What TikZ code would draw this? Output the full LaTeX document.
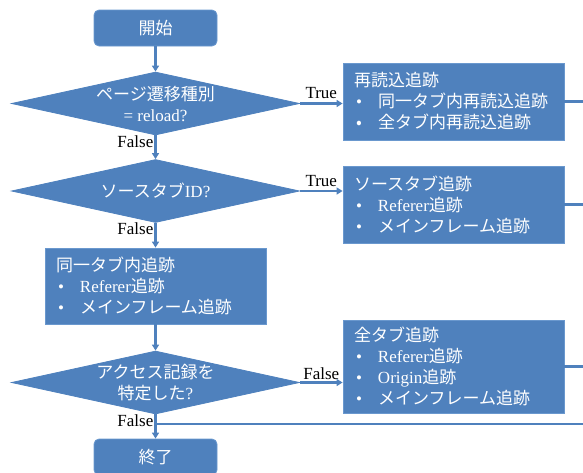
\documentclass[tikz,border=0pt]{standalone}
\usepackage{fontspec}
\setmainfont{Liberation Serif}
\newfontfamily\jp{Noto Sans CJK JP}
\usetikzlibrary{shapes.geometric,arrows.meta}
\definecolor{fc}{HTML}{4F81BD}
\definecolor{bc}{HTML}{6A98CE}
\newcommand{\bul}[1]{\hspace*{2pt}\makebox[22pt][l]{•}#1}
\tikzset{
  base/.style={fill=fc,draw=bc,line width=0.8pt,text=white,font=\fontsize{17}{21}\selectfont,inner sep=0pt},
  terminal/.style={base,rounded corners=5pt,minimum width=123pt,minimum height=36pt},
  decision/.style={base,diamond,minimum width=288pt,minimum height=63pt,draw=fc},
  procbox/.style={base,rectangle,minimum width=221pt,align=left,text width=199pt,inner xsep=11pt},
  dtext/.style={text=white,align=center,font=\fontsize{17}{21}\selectfont,inner sep=0pt},
  conn/.style={draw=fc,line width=2.2pt},
  arr/.style={conn,-{Triangle[length=6pt,width=7pt]}},
  lbl/.style={text=black,font=\fontsize{17}{20}\selectfont,inner sep=0pt}
}
\begin{document}
\begin{tikzpicture}[x=1pt,y=-1pt]
\useasboundingbox (0,0) rectangle (583,472);
\node[terminal] (start) at (155.5,28) {\jp 開始};
\node[decision] (d1) at (155.5,103.5) {};
\node[dtext] (d1t) at (d1.center) {{\jp ページ遷移種別}\\= reload?};
\node[procbox,minimum height=77pt] (b1) at (453.5,101.5) {{\jp 再読込追跡}\\\bul{\jp 同一タブ内再読込追跡}\\\bul{\jp 全タブ内再読込追跡}};
\node[decision] (d2) at (155.5,191) {};
\node[dtext] (d2t) at (d2.center) {{\jp ソースタブ}ID?};
\node[procbox,minimum height=77pt] (b2) at (453.5,204.5) {{\jp ソースタブ追跡}\\\bul{Referer{\jp 追跡}}\\\bul{\jp メインフレーム追跡}};
\node[procbox,minimum height=76pt] (b3) at (155.5,286) {{\jp 同一タブ内追跡}\\\bul{Referer{\jp 追跡}}\\\bul{\jp メインフレーム追跡}};
\node[decision] (d3) at (155.5,382.5) {};
\node[dtext] (d3t) at (d3.center) {{\jp アクセス記録を}\\{\jp 特定した}?};
\node[procbox,minimum height=93pt] (b4) at (453.5,366.5) {{\jp 全タブ追跡}\\\bul{Referer{\jp 追跡}}\\\bul{Origin{\jp 追跡}}\\\bul{\jp メインフレーム追跡}};
\node[terminal] (end) at (155.5,457) {\jp 終了};
\coordinate (r1) at (590,101.5);
\coordinate (r2) at (590,204.5);
\coordinate (r4) at (590,366.5);
\coordinate (rr) at (590,424);
\coordinate (j) at (155.5,424);
% connectors
\draw[arr] (start) -- (d1);
\draw[arr] (d1.east) -- (d1.east -| b1.west) node[lbl,midway,anchor=base,yshift=5pt] (t1) {True};
\draw[conn] (b1.east) -- (r1);
\draw[arr] (d1.south) -- (d2.north);
\node[lbl,anchor=base east] (f1) at ([xshift=-2pt,yshift=-12pt]d1.south) {False};
\draw[arr] (d2.east) -- (d2.east -| b2.west) node[lbl,midway,anchor=base,yshift=5pt] (t2) {True};
\draw[conn] (b2.east) -- (r2);
\draw[arr] (d2.south) -- (b3.north);
\node[lbl,anchor=base east] (f2) at ([xshift=-2pt,yshift=-12pt]d2.south) {False};
\draw[arr] (b3.south) -- (d3.north);
\draw[arr] (d3.east) -- (d3.east -| b4.west) node[lbl,midway,anchor=base,yshift=3pt] (f3) {False};
\draw[conn] (b4.east) -- (r4);
\draw[conn] (rr) -- (j);
\draw[arr] (d3.south) -- (end.north);
\node[lbl,anchor=base east] (f4) at ([xshift=-2pt,yshift=-12pt]d3.south) {False};
\end{tikzpicture}
\end{document}
